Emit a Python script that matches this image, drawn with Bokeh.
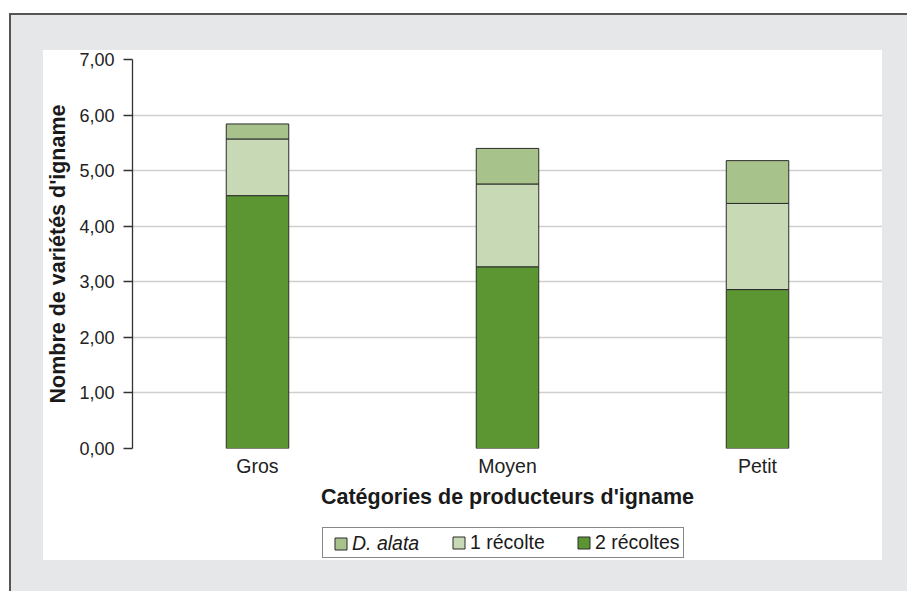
from bokeh.plotting import figure
from bokeh.models import FactorRange, Range1d, FixedTicker, Legend, LegendItem, ColumnDataSource
from bokeh.layouts import column
from bokeh.embed import file_html
from bokeh.resources import INLINE

# ---- data ----
categories = ["Gros", "Moyen", "Petit"]
deux_recoltes = [4.55, 3.27, 2.86]
une_recolte = [1.02, 1.49, 1.55]
d_alata = [0.27, 0.64, 0.77]
series_keys = ["deux", "une", "alata"]
series_labels = ["2 récoltes", "1 récolte", "D. alata"]
series_colors = ["#5b9632", "#c8d9b5", "#a7c28b"]
y_ticks = [0, 1, 2, 3, 4, 5, 6, 7]
y_tick_labels = ["0,00", "1,00", "2,00", "3,00", "4,00", "5,00", "6,00", "7,00"]
x_title = "Catégories de producteurs d'igname"
y_title = "Nombre de variétés d'igname"

FONT = "Liberation Sans"
EDGE = "#2b2b2b"

source = ColumnDataSource(dict(cat=categories, deux=deux_recoltes, une=une_recolte, alata=d_alata))

p = figure(
    x_range=FactorRange(*categories),
    y_range=Range1d(0, 7),
    width=839, height=470,
    output_backend="svg", toolbar_location=None,
    min_border_left=89, min_border_right=0, min_border_top=9, min_border_bottom=72,
    background_fill_color="white", border_fill_color="white",
)
p.outline_line_color = None

renderers = p.vbar_stack(series_keys, x="cat", width=0.25, source=source,
                         fill_color=series_colors, line_color=EDGE, line_width=1)

# axes
p.xaxis.axis_line_color = None
p.xaxis.major_tick_line_color = None
p.xaxis.minor_tick_line_color = None
p.xaxis.major_label_text_font = FONT
p.xaxis.major_label_text_font_size = "19.5px"
p.xaxis.major_label_text_color = "#222222"
p.xaxis.major_label_standoff = 0
p.xaxis.axis_label = x_title
p.xaxis.axis_label_text_font = FONT
p.xaxis.axis_label_text_font_style = "bold"
p.xaxis.axis_label_text_font_size = "21.5px"
p.xaxis.axis_label_text_color = "#1a1a1a"
p.xaxis.axis_label_standoff = 5

p.yaxis.ticker = FixedTicker(ticks=y_ticks)
p.yaxis.major_label_overrides = {t: l for t, l in zip(y_ticks, y_tick_labels)}
p.yaxis.axis_line_color = "#333333"
p.yaxis.axis_line_width = 1.3
p.yaxis.major_tick_line_color = "#333333"
p.yaxis.major_tick_line_width = 1.3
p.yaxis.major_tick_out = 9
p.yaxis.major_tick_in = 0
p.yaxis.minor_tick_line_color = None
p.yaxis.major_label_text_font = FONT
p.yaxis.major_label_text_font_size = "18px"
p.yaxis.major_label_text_color = "#222222"
p.yaxis.major_label_standoff = 9
p.yaxis.axis_label = y_title
p.yaxis.axis_label_text_font = FONT
p.yaxis.axis_label_text_font_style = "bold"
p.yaxis.axis_label_text_font_size = "21.5px"
p.yaxis.axis_label_text_color = "#1a1a1a"
p.yaxis.axis_label_standoff = 6

p.xgrid.grid_line_color = None
p.ygrid.ticker = FixedTicker(ticks=y_ticks)
p.ygrid.grid_line_color = "#cfcfcf"
p.ygrid.grid_line_width = 1.6

# ---- legend strip (separate small figure under the chart) ----
pl = figure(width=839, height=40, x_range=FactorRange(*categories), y_range=Range1d(0, 7),
            x_axis_type=None, y_axis_type=None,
            output_backend="svg", toolbar_location=None,
            min_border_left=0, min_border_right=0, min_border_top=0, min_border_bottom=0,
            background_fill_color="white", border_fill_color="white")
pl.outline_line_color = None
# legend proxies: same data and styling as the bars, hidden (only their legend swatches show)
proxies = pl.vbar_stack(series_keys, x="cat", width=0.25, source=source,
                        fill_color=series_colors, line_color=EDGE, line_width=1)
for r in proxies:
    r.visible = False
spacer = pl.vbar(x=[], top=[], width=0.25, fill_alpha=0, line_alpha=0)

common = dict(orientation="horizontal", glyph_width=15, glyph_height=15, label_standoff=4,
              label_text_font=FONT, label_text_font_size="19.5px", label_text_color="#1a1a1a",
              margin=0, label_height=22, inactive_fill_alpha=0)

leg_frame = Legend(items=[LegendItem(label="", renderers=[spacer]),
                          LegendItem(label=series_labels[1], renderers=[proxies[1]]),
                          LegendItem(label=series_labels[0], renderers=[proxies[0]])],
                   location=(190, 2), padding=3, spacing=30, label_width=76,
                   border_line_color="#111111", border_line_width=1,
                   background_fill_color="white", background_fill_alpha=1.0, **common)
leg_alata = Legend(items=[LegendItem(label=series_labels[2], renderers=[proxies[2]])],
                   location=(201, 5), padding=0,
                   border_line_alpha=0, background_fill_alpha=0,
                   label_text_font_style="italic", **common)
pl.add_layout(leg_frame)
pl.add_layout(leg_alata)

inner = column(p, pl, spacing=0, styles={"background-color": "white"})
layout = column(inner, styles={
    "background-color": "#e6e7e8",
    "border-left": "2px solid #555555",
    "border-top": "2px solid #555555",
    "padding": "35px 25px 31px 32px",
    "margin": "13px 0px 0px 9px",
})

open("out.html", "w").write(file_html(layout, INLINE))
